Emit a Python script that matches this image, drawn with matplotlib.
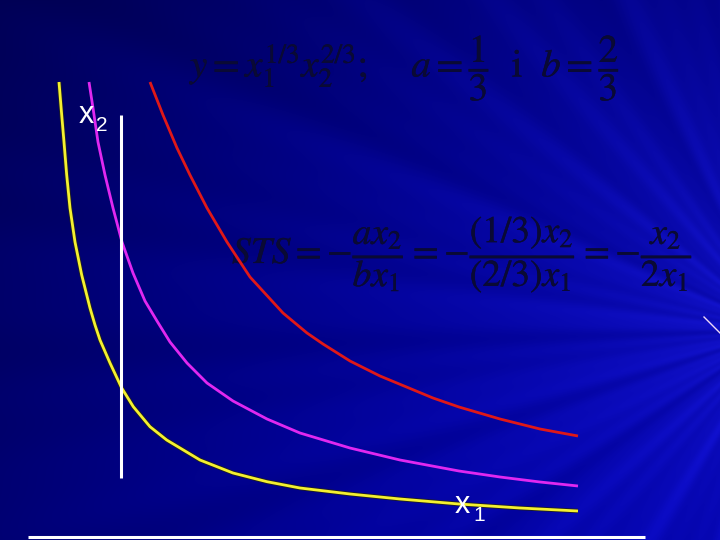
import matplotlib.pyplot as plt
import matplotlib.patheffects as pe
import numpy as np

# curve points (pixel coords, y grows downward)
yellow_x = [59, 61.7, 64, 66.7, 70, 75, 81.7, 90, 95, 100, 110, 121.7, 133.3, 150, 166.7,
            200, 233, 267, 300, 350, 400, 459, 520, 578]
yellow_y = [82, 115, 142, 175, 208, 242, 275, 308, 325, 340, 363, 388, 406.7, 426.7, 440,
            460, 473, 481.7, 488, 494, 499, 504, 508, 511]

magenta_x = [89, 93, 98, 105, 113, 122, 133, 145, 157, 170, 187, 207, 233, 267, 300, 350,
             400, 459, 500, 540, 578]
magenta_y = [82, 108, 142, 175, 208, 242, 273, 301, 321, 342, 363, 383, 401, 419, 433, 448,
             460, 471, 477, 482, 486]

red_x = [150, 163, 177, 190, 207, 227, 250, 283, 307, 323, 350, 380, 433, 459, 500, 540, 578]
red_y = [82, 115, 148, 175, 208, 242, 277, 313, 333, 344, 361, 376, 398, 407, 419, 429, 436]

vline_x, vline_y = [121, 121], [115, 478]
hline_x, hline_y = [28, 645], [537, 537]
tick_x, tick_y = [704, 720], [317, 333]

fig = plt.figure(figsize=(7.2, 5.4), dpi=100)
ax = fig.add_axes([0, 0, 1, 1])
ax.set_xlim(0, 720)
ax.set_ylim(540, 0)
ax.axis('off')

# blue background with soft rays coming from the right side
yy, xx = np.mgrid[0:540, 0:720]
fx, fy = 780, 330
ang = np.arctan2(yy - fy, xx - fx)
r = np.hypot(xx - fx, yy - fy)
rays = (0.5 * np.cos(ang * 23 + 1.3) + 0.35 * np.cos(ang * 41 + 0.4)
        + 0.25 * np.cos(ang * 67 + 2.1) + 0.2 * np.cos(ang * 11 + 0.7))
glow = np.clip(1 - r / 900, 0, 1)
vert = yy / 540
b = 0.30 + 0.42 * glow + 0.10 * vert + 0.045 * rays * (0.3 + glow)
rg = np.clip(0.0 + 0.07 * glow ** 3 + 0.02 * rays * glow ** 2, 0, 1)
img = np.dstack([rg, rg, np.clip(b, 0, 1)])
ax.imshow(img, extent=[0, 720, 540, 0], aspect='auto', zorder=0)

# curves
ax.plot(yellow_x, yellow_y, color='#202020', lw=3.2, solid_capstyle='butt', zorder=2)
ax.plot(yellow_x, yellow_y, color='#f4f030', lw=2.0, solid_capstyle='butt', zorder=3)
ax.plot(magenta_x, magenta_y, color='#e028f0', lw=2.0, solid_capstyle='butt', zorder=3)
ax.plot(red_x, red_y, color='#e01818', lw=2.0, solid_capstyle='butt', zorder=3)

# axes lines
ax.plot(vline_x, vline_y, color='white', lw=2.2, solid_capstyle='butt', zorder=4)
ax.plot(hline_x, hline_y, color='white', lw=2.2, solid_capstyle='butt', zorder=4)
ax.plot(tick_x, tick_y, color='#f0d8f8', lw=1.0, zorder=4)

# axis labels
ax.text(79, 123, 'x', color='white', fontsize=22, family='Liberation Sans', zorder=5)
ax.text(96, 131, '2', color='white', fontsize=15, family='Liberation Sans', zorder=5)
ax.text(455, 513, 'x', color='white', fontsize=22, family='Liberation Sans', zorder=5)
ax.text(473, 521, '1', color='white', fontsize=15, family='Liberation Sans', zorder=5)

# formulas (dark text)
plt.rcParams['mathtext.fontset'] = 'stix'
fcol = '#0a0a34'
thick = [pe.withStroke(linewidth=0.25, foreground=fcol)]
ax.text(190, 68, r'$y = x_1^{1/3}x_2^{2/3};\quad\ a = \dfrac{1}{3}\ \ \mathrm{i}\ \ b = \dfrac{2}{3}$',
        color=fcol, fontsize=28, va='center', ha='left', zorder=1, path_effects=thick)
ax.text(232, 254, r'$STS = -\dfrac{ax_2}{bx_1} = -\dfrac{(1/3)x_2}{(2/3)x_1} = -\dfrac{x_2}{2x_1}$',
        color=fcol, fontsize=27, va='center', ha='left', zorder=1, path_effects=thick)

fig.savefig('out.png', dpi=100, facecolor=fig.get_facecolor())
